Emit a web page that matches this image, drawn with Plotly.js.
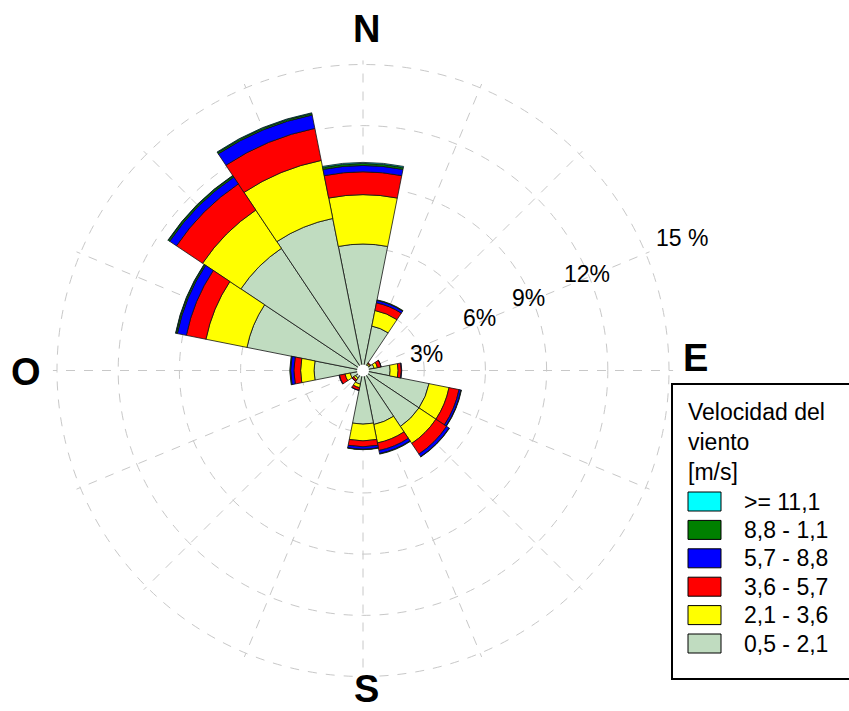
<!DOCTYPE html>
<html>
<head>
<meta charset="utf-8">
<script src="https://cdn.plot.ly/plotly-3.0.1.min.js"></script>
<style>html,body{margin:0;padding:0;background:#fff;}#chart{width:849px;height:711px;}</style>
</head>
<body>
<div id="chart"></div>
<script>
// Directions (compass sectors)
const directions = ['N','NNE','NE','ENE','E','ESE','SE','SSE','S','SSW','SW','WSW','W','WNW','NW','NNW'];
// Speed classes (m/s) and colours, innermost first
const speedBins = ['0,5 - 2,1','2,1 - 3,6','3,6 - 5,7','5,7 - 8,8','8,8 - 1,1','>= 11,1'];
const binColors = ['#C0DCC0','#FFFF00','#FF0000','#0000FF','#008000','#00FFFF'];
// Frequencies (%) per direction for each speed class
const f_05_21 = [6.2, 2.22, 0.35, 0.55, 1.33, 3.3, 3.3, 2.7, 2.63, 0.68, 0.45, 0.64, 2.4, 5.8, 7.2, 7.6];
const f_21_36 = [2.42, 0.78, 0.07, 0.17, 0.39, 1.0, 1.0, 0.92, 0.82, 0.18, 0.10, 0.26, 0.66, 2.05, 2.26, 2.9];
const f_36_57 = [1.12, 0.38, 0.04, 0.18, 0.16, 0.5, 0.63, 0.38, 0.29, 0.13, 0.09, 0.28, 0.33, 0.98, 1.54, 1.6];
const f_57_88 = [0.31, 0.12, 0.0, 0.01, 0.02, 0.1, 0.15, 0.15, 0.12, 0.01, 0.01, 0.02, 0.16, 0.45, 0.4, 0.67];
const f_88_111 = [0.10, 0.03, 0, 0, 0, 0.02, 0.02, 0.03, 0.02, 0, 0, 0, 0.04, 0.07, 0.08, 0.08];
const f_111 = [0.05, 0, 0, 0, 0, 0, 0, 0, 0, 0, 0, 0, 0, 0.02, 0.02, 0.03];
const seriesValues = [f_05_21, f_21_36, f_36_57, f_57_88, f_88_111, f_111];
// Radial tick labels and compass labels
const radialTicks = [3, 6, 9, 12, 15];
const radialLabels = ['3%', '6%', '9%', '12%', '15 %'];
const compassLabels = ['N', 'E', 'S', 'O'];
const legendTitle = 'Velocidad del<br>viento<br>[m/s]';

const W = 849, H = 711;
const px = x => x / W;
const py = y => 1 - y / H;

const traces = seriesValues.map((vals, i) => ({
  type: 'barpolar',
  r: vals,
  theta: directions,
  name: speedBins[i],
  marker: {color: binColors[i], line: {color: '#111', width: 0.8}},
  hoverinfo: 'skip'
}));
// white centre hole
traces.push({
  type: 'scatterpolar', mode: 'markers', r: [0], theta: ['N'],
  marker: {color: '#fff', size: 12, line: {width: 0}}, hoverinfo: 'skip', showlegend: false
});

const annotations = [];
const compassPos = [[366, 29], [695, 358], [366, 689], [26, 372]];
compassLabels.forEach((t, i) => annotations.push({
  xref: 'paper', yref: 'paper', x: px(compassPos[i][0]), y: py(compassPos[i][1]),
  xanchor: 'center', yanchor: 'middle', showarrow: false, text: '<b>' + t + '</b>',
  font: {family: 'Liberation Sans, Arial, sans-serif', size: 38, color: '#000'}
}));
const radialPos = [[426, 354], [479, 318], [528, 298], [587, 274], [682, 238]];
radialLabels.forEach((t, i) => annotations.push({
  xref: 'paper', yref: 'paper', x: px(radialPos[i][0]), y: py(radialPos[i][1]),
  xanchor: 'center', yanchor: 'middle', showarrow: false, text: t,
  font: {family: 'Liberation Sans, Arial, sans-serif', size: 23, color: '#000'}
}));
// legend title
annotations.push({
  xref: 'paper', yref: 'paper', x: px(686), y: py(397), xanchor: 'left', yanchor: 'top',
  align: 'left', showarrow: false, text: legendTitle,
  font: {family: 'Liberation Sans, Arial, sans-serif', size: 23, color: '#000'}
});

const shapes = [{
  type: 'rect', xref: 'paper', yref: 'paper', x0: px(672), x1: px(870), y0: py(384), y1: py(679),
  line: {color: '#000', width: 2}, fillcolor: 'rgba(0,0,0,0)'
}];
const rowTop = 492, rowStep = 28.4;
for (let k = 0; k < speedBins.length; k++) {
  const i = speedBins.length - 1 - k;
  const y0 = rowTop + k * rowStep;
  shapes.push({
    type: 'rect', xref: 'paper', yref: 'paper', x0: px(688), x1: px(721), y0: py(y0), y1: py(y0 + 19),
    line: {color: '#000', width: 1}, fillcolor: binColors[i]
  });
  annotations.push({
    xref: 'paper', yref: 'paper', x: px(742), y: py(y0 + 9.5), xanchor: 'left', yanchor: 'middle',
    showarrow: false, text: speedBins[i],
    font: {family: 'Liberation Sans, Arial, sans-serif', size: 23, color: '#000'}
  });
}

// polar centre (363, 370.5) px, 20.4 px per percent; range slightly beyond 15 so the 15 % ring shows
const rMax = 15.2, pxPerPct = 20.4, cx = 363, cy = 370.5;
const R = rMax * pxPerPct;

const layout = {
  width: W, height: H,
  margin: {l: 0, r: 0, t: 0, b: 0},
  paper_bgcolor: '#fff',
  showlegend: false,
  font: {family: 'Liberation Sans, Arial, sans-serif', color: '#000'},
  polar: {
    domain: {x: [px(cx - R), px(cx + R)], y: [py(cy + R), py(cy - R)]},
    bgcolor: '#fff',
    bargap: 0,
    barmode: 'stack',
    radialaxis: {
      range: [0, rMax], tickvals: radialTicks, showticklabels: false, ticks: '',
      showline: false, showgrid: true, gridcolor: '#C8C8C8', griddash: 'dash', gridwidth: 1
    },
    angularaxis: {
      type: 'category', categoryarray: directions, rotation: 90, direction: 'clockwise',
      showticklabels: false, ticks: '', showline: false,
      showgrid: true, gridcolor: '#C8C8C8', griddash: 'dash', gridwidth: 1
    }
  },
  annotations: annotations,
  shapes: shapes
};

Plotly.newPlot('chart', traces, layout, {staticPlot: true, displayModeBar: false});
</script>
</body>
</html>
